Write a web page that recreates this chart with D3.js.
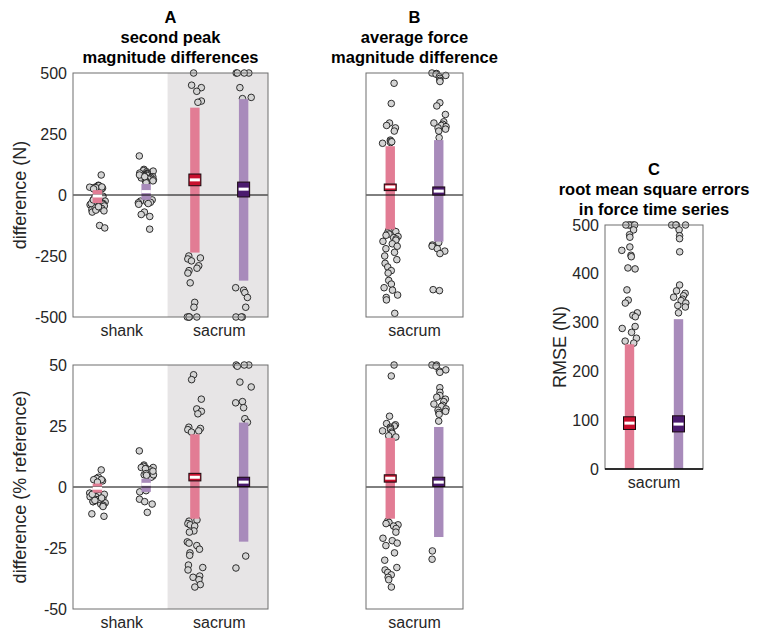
<!DOCTYPE html>
<html>
<head>
<meta charset="utf-8">
<script src="https://cdn.jsdelivr.net/npm/d3@7"></script>
<style>
  body { margin: 0; background: #fff; }
  text { font-family: "Liberation Sans", Arial, sans-serif; }
</style>
</head>
<body>
<script>
// ---------- data ----------
var ticksN = [-500, -250, 0, 250, 500];
var ticksPct = [-50, -25, 0, 25, 50];
var ticksRmse = [0, 100, 200, 300, 400, 500];

// A top: second peak magnitude differences (N)
var aN_shankPink = [82, 40, 35, 30, 28, 25, 22, 35, 18, 32, 38, 27, 30, -5, -10, -15, -20, -25, -30, -35, -38, -40,
  -42, -45, -50, -55, -60, -65, -70, -30, -45, -52, -62, -48, -35, -125, -135, -20, 25, 33];
var aN_shankPurple = [160, 105, 100, 98, 95, 90, 88, 85, 80, 78, 75, 72, 70, 68, 65, 62, 60, 58, 55, 52, 50, 90, 82, 75,
  -20, -22, -25, -28, -30, -32, -35, -38, -70, -80, -88, -140];
var aN_sacrumPink = [500, 450, 440, 425, 385, 380, -250, -258, -262, -270, -290, -300, -310, -320, -360, -440, -460,
  -500, -500, -500, -500];
var aN_sacrumPurple = [500, 500, 500, 500, 440, 400, 395, -380, -390, -400, -420, -460, -500, -500, -500];
// [bar low, bar high, median, box low, box high]
var aN_summary = [[-33, 20, -4], [-20, 45, 14], [-236, 358, 62, 38, 86], [-351, 393, 24, -8, 53]];

// A bottom: second peak magnitude differences (% reference)
var aP_shankPink = [7, 4, 3.5, 3, 2.5, 3, 2, -1, -2, -2.5, -3, -3.5, -4, -4.5, -5, -5.5, -6, -6.5, -7, -7.5, -8, -4, -5,
  -3, -6, -4.5, -11, -12, -3, -5.5];
var aP_shankPurple = [14.8, 9, 8.5, 8, 7.5, 7, 6.5, 6, 5.5, 5, 4.5, 4, 8, 7, 6, 5, 7.5, 6.5, 5.5, 4.8, -1.5, -2, -5, -6,
  -7, -10.4];
var aP_sacrumPink = [46, 44, 36, 32, 31, 30, 24.5, 24, 23.5, 22.5, 23, -13.5, -14, -15, -15.5, -16, -18, -18.5, -22.5,
  -23, -24, -25.5, -27, -28, -32, -33, -34, -36.5, -37, -38, -40, -41];
var aP_sacrumPurple = [50, 50, 50, 49.5, 43, 41, 35, 34.5, 32.5, 28, 26.5, -28.3, -33.2];
var aP_summary = [[-2.3, 1.4, -0.5], [-2, 3.4, 1.1], [-13, 21.6, 4, 2.5, 5.6], [-22.4, 26.4, 2, 0.2, 4]];

// B top: average force magnitude difference (N)
var bN_pink = [458, 375, 295, 285, 275, 262, 225, 220, 215, 212, 218, -140, -145, -150, -155, -160, -165, -170, -175,
  -180, -185, -190, -200, -210, -220, -235, -250, -265, -280, -295, -310, -320, -350, -365, -380, -390, -410, -420, -430, -485];
var bN_purple = [500, 498, 495, 490, 485, 478, 470, 465, 378, 365, 330, 300, 295, 290, 285, 280, 275, 270, 262, 235,
  -195, -205, -210, -220, -230, -240, -388, -392];
var bN_summary = [[-141, 200, 33, 18, 45], [-191, 225, 16, 0, 33]];

// B bottom: average force magnitude difference (% reference)
var bP_pink = [50, 45.5, 29, 26, 25.5, 25, 24.5, 24, 23.5, 23, 22.5, 22, 21, 20.5, -14, -14.5, -15, -15.5, -16, -17,
  -18.5, -21, -22, -23, -24, -27, -30, -33, -34, -35, -36, -37, -38, -41];
var bP_purple = [50, 50, 49.5, 48, 47.5, 47, 40.7, 38.8, 37.5, 36.8, 36, 35, 34, 33.5, 33, 32, 31.5, 31, 30.5, 29.8, 27,
  -26.2, -29.6];
var bP_summary = [[-13, 20.1, 3.6, 2, 5], [-20.5, 24.6, 2, 0.2, 4]];

// C: RMSE (N)
var c_pink = [500, 500, 500, 500, 500, 490, 480, 475, 455, 448, 438, 435, 412, 410, 367, 346, 340, 320, 315, 312, 292,
  288, 280, 268, 262, 258];
var c_purple = [500, 500, 500, 500, 490, 478, 472, 445, 377, 365, 360, 355, 352, 348, 345, 340, 335, 332, 320];
var c_summary = [[0, 255.5, 94, 81, 107], [0, 307, 92, 76, 109]];

// ---------- drawing ----------
var pinkBar = "#e27c94", pinkBox = "#c8102e";
var purpleBar = "#a88bbb", purpleBox = "#4b1b6e";

var svg = d3.select("body").append("svg").attr("width", 758).attr("height", 641);

// deterministic horizontal scatter, +-8 px
function jit(i, k) {
  var s = Math.sin((i + 1) * 12.9898 + (k + 1) * 78.233) * 43758.5453;
  return ((s - Math.floor(s)) - 0.5) * 16;
}

function panel(cfg) {
  var n = cfg.pts.length;
  var x = d3.scaleLinear().domain([0.5, n + 0.5]).range([cfg.left, cfg.right]);
  var y = d3.scaleLinear().domain(cfg.yDomain).range([cfg.bottom, cfg.top]);
  var g = svg.append("g");

  if (cfg.shade) {
    g.append("rect")
      .attr("x", x(cfg.shade)).attr("y", cfg.top)
      .attr("width", cfg.right - x(cfg.shade)).attr("height", cfg.bottom - cfg.top)
      .attr("fill", "#e7e5e6");
  }

  cfg.pts.forEach(function (pts, k) {
    var cx = x(k + 1);
    g.selectAll(null).data(pts).enter().append("circle")
      .attr("cx", function (d, i) { return cx + jit(i, k); })
      .attr("cy", function (d) { return y(d); })
      .attr("r", 3.3)
      .attr("fill", "#d4d4d4")
      .attr("stroke", "#1a1a1a")
      .attr("stroke-width", 0.9);
  });

  cfg.summ.forEach(function (s, k) {
    var cx = x(k + 1);
    var pink = k % 2 == 0;
    g.append("rect")
      .attr("x", cx - 4.7).attr("width", 9.4)
      .attr("y", y(s[1])).attr("height", y(s[0]) - y(s[1]))
      .attr("fill", pink ? pinkBar : purpleBar);
  });

  if (cfg.zero !== false) {
    g.append("line")
      .attr("x1", cfg.left).attr("x2", cfg.right)
      .attr("y1", y(0)).attr("y2", y(0))
      .attr("stroke", "#000").attr("stroke-width", 1);
  }

  cfg.summ.forEach(function (s, k) {
    var cx = x(k + 1);
    var pink = k % 2 == 0;
    if (s.length > 3) {
      g.append("rect")
        .attr("x", cx - 6).attr("width", 12)
        .attr("y", y(s[4])).attr("height", y(s[3]) - y(s[4]))
        .attr("fill", pink ? pinkBox : purpleBox)
        .attr("stroke", "#1a0a0f").attr("stroke-width", 1);
      g.append("rect")
        .attr("x", cx - 5).attr("width", 10)
        .attr("y", y(s[2]) - 1.5).attr("height", 3)
        .attr("fill", "#fff");
    } else {
      g.append("rect")
        .attr("x", cx - 4.7).attr("width", 9.4)
        .attr("y", y(s[2]) - 1.5).attr("height", 3)
        .attr("fill", "#fff");
    }
  });

  // frame
  g.append("rect")
    .attr("x", cfg.left).attr("y", cfg.top)
    .attr("width", cfg.right - cfg.left).attr("height", cfg.bottom - cfg.top)
    .attr("fill", "none").attr("stroke", "#6e6e6e").attr("stroke-width", 1);

  if (cfg.bottomBlack) {
    g.append("line")
      .attr("x1", cfg.left).attr("x2", cfg.right)
      .attr("y1", cfg.bottom).attr("y2", cfg.bottom)
      .attr("stroke", "#000").attr("stroke-width", 1.3);
  }

  if (cfg.ticks) {
    var ax = g.append("g")
      .attr("transform", "translate(" + cfg.left + ",0)")
      .call(d3.axisLeft(y).tickValues(cfg.ticks).tickFormat(function (d) { return String(d); })
        .tickSize(0).tickPadding(6));
    ax.select(".domain").remove();
    ax.selectAll("text")
      .style("font-size", "16px")
      .style("font-family", "'Liberation Sans', Arial, sans-serif")
      .attr("fill", "#262626");
  }

  if (cfg.ylabel) {
    g.append("text")
      .attr("transform", "translate(" + cfg.ylabelX + "," + ((cfg.top + cfg.bottom) / 2) + ") rotate(-90)")
      .attr("text-anchor", "middle")
      .attr("font-size", 18)
      .attr("fill", "#262626")
      .text(cfg.ylabel);
  }

  cfg.xlabels.forEach(function (l) {
    g.append("text")
      .attr("x", x(l.pos)).attr("y", cfg.bottom + 19)
      .attr("text-anchor", "middle")
      .attr("font-size", 16)
      .attr("fill", "#262626")
      .text(l.text);
  });

  if (cfg.title) {
    cfg.title.forEach(function (t, i) {
      g.append("text")
        .attr("x", (cfg.left + cfg.right) / 2)
        .attr("y", cfg.top - 50 + i * 20)
        .attr("text-anchor", "middle")
        .attr("font-size", 16.5)
        .attr("font-weight", "bold")
        .attr("fill", "#000")
        .text(t);
    });
  }
}

var xlabA = [{ text: "shank", pos: 1.5 }, { text: "sacrum", pos: 3.5 }];
var xlabB = [{ text: "sacrum", pos: 1.5 }];

panel({
  left: 73, right: 268, top: 73, bottom: 317, yDomain: [-500, 500], ticks: ticksN,
  shade: 2.44, pts: [aN_shankPink, aN_shankPurple, aN_sacrumPink, aN_sacrumPurple], summ: aN_summary,
  ylabel: "difference (N)", ylabelX: 26, xlabels: xlabA,
  title: ["A", "second peak", "magnitude differences"]
});
panel({
  left: 73, right: 268, top: 365, bottom: 609, yDomain: [-50, 50], ticks: ticksPct,
  shade: 2.44, pts: [aP_shankPink, aP_shankPurple, aP_sacrumPink, aP_sacrumPurple], summ: aP_summary,
  ylabel: "difference (% reference)", ylabelX: 26, xlabels: xlabA
});
panel({
  left: 366, right: 463, top: 73, bottom: 317, yDomain: [-500, 500],
  pts: [bN_pink, bN_purple], summ: bN_summary, xlabels: xlabB,
  title: ["B", "average force", "magnitude difference"]
});
panel({
  left: 366, right: 463, top: 365, bottom: 609, yDomain: [-50, 50],
  pts: [bP_pink, bP_purple], summ: bP_summary, xlabels: xlabB
});
panel({
  left: 605, right: 703, top: 225, bottom: 469, yDomain: [0, 500], ticks: ticksRmse,
  pts: [c_pink, c_purple], summ: c_summary, zero: false, bottomBlack: true,
  ylabel: "RMSE (N)", ylabelX: 566, xlabels: xlabB,
  title: ["C", "root mean square errors", "in force time series"]
});
</script>
</body>
</html>
